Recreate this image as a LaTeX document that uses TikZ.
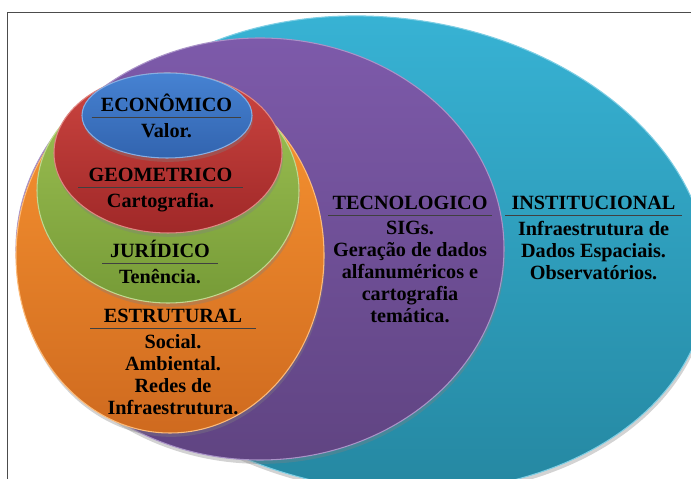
\documentclass[tikz,border=0pt]{standalone}
\usepackage{fontspec}
\setmainfont{Liberation Serif}
\usetikzlibrary{positioning, shapes.geometric, shadows}

\definecolor{cianoA}{HTML}{38B4D6}
\definecolor{cianoB}{HTML}{2588A2}
\definecolor{roxoA}{HTML}{7D5AAA}
\definecolor{roxoB}{HTML}{604482}
\definecolor{laranjaA}{HTML}{FA9632}
\definecolor{laranjaB}{HTML}{CF6A1F}
\definecolor{verdeA}{HTML}{A0C355}
\definecolor{verdeB}{HTML}{769B37}
\definecolor{vermelhoA}{HTML}{CD4641}
\definecolor{vermelhoB}{HTML}{A02828}
\definecolor{azulA}{HTML}{4682D2}
\definecolor{azulB}{HTML}{3264AF}

\begin{document}
\begin{tikzpicture}[
  x=0.2mm, y=0.2mm,
  font=\fontsize{11.5}{12.5}\selectfont\bfseries,
  elipse/.style 2 args={ellipse, inner sep=0pt, top color=#1, bottom color=#2,
                        draw=#1!65!white, line width=0.6pt,
                        drop shadow={shadow xshift=0.6pt, shadow yshift=-2.2pt, opacity=0.35}},
  titulo/.style={anchor=base, inner xsep=#1, inner ysep=3pt},
  titulo/.default=5pt,
  texto/.style={align=center, inner sep=0pt},
  traco/.style={line width=0.7pt, black!75}
]
\useasboundingbox (0,0) rectangle (691,479);
\clip (0,0) rectangle (691,479);

% ---------- moldura ----------
\draw[black!70, line width=0.8pt] (7.5,-20) |- (720,466.5);

% ---------- elipses (de fora para dentro) ----------
\node[elipse={cianoA}{cianoB}, minimum width=130mm, minimum height=94.4mm, rotate=-8] (inst) at (385,225) {};
\node[elipse={roxoA}{roxoB}, minimum width=97.6mm, minimum height=84.4mm] (tec) at (260,230) {};
\node[elipse={laranjaA}{laranjaB}, minimum width=61.6mm, minimum height=71mm] (estr) at (170,223.5) {};
\node[elipse={verdeA}{verdeB}, minimum width=52.4mm, minimum height=45mm] (jur) at (168,288.5) {};
\node[elipse={vermelhoA}{vermelhoB}, minimum width=45.6mm, minimum height=32mm] (geo) at (168,326) {};
\node[elipse={azulA}{azulB}, minimum width=34mm, minimum height=17mm] (econ) at (167,363.5) {};

% ---------- ECONOMICO ----------
\node[titulo] (tEcon) at (166.5,367) {ECONÔMICO};
\draw[traco] (tEcon.south west) -- (tEcon.south east);
\node[texto, below=3pt of tEcon] (cEcon) {Valor.};

% ---------- GEOMETRICO ----------
\node[titulo=5.7pt] (tGeo) at (160.5,297) {GEOMETRICO};
\draw[traco] (tGeo.south west) -- (tGeo.south east);
\node[texto, below=3pt of tGeo] (cGeo) {Cartografia.};

% ---------- JURIDICO ----------
\node[titulo=4.3pt] (tJur) at (160,221) {JURÍDICO};
\draw[traco] (tJur.south west) -- (tJur.south east);
\node[texto, below=3pt of tJur] (cJur) {Tenência.};

% ---------- ESTRUTURAL ----------
\node[titulo=7.5pt] (tEstr) at (173,156) {ESTRUTURAL};
\draw[traco] (tEstr.south west) -- (tEstr.south east);
\node[texto, below=3pt of tEstr] (cEstr) {Social.\\ Ambiental.\\ Redes de\\ Infraestrutura.};

% ---------- TECNOLOGICO ----------
\node[titulo=2.3pt] (tTec) at (410,269) {TECNOLOGICO};
\draw[traco] (tTec.south west) -- (tTec.south east);
\node[texto, below=3pt of tTec] (cTec) {SIGs.\\ Geração de dados\\ alfanuméricos e\\ cartografia\\ temática.};

% ---------- INSTITUCIONAL ----------
\node[titulo=3.5pt] (tInst) at (593.5,269) {INSTITUCIONAL};
\draw[traco] (tInst.south west) -- (tInst.south east);
\node[texto, below=3pt of tInst] (cInst) {Infraestrutura de\\ Dados Espaciais.\\ Observatórios.};

\end{tikzpicture}
\end{document}
